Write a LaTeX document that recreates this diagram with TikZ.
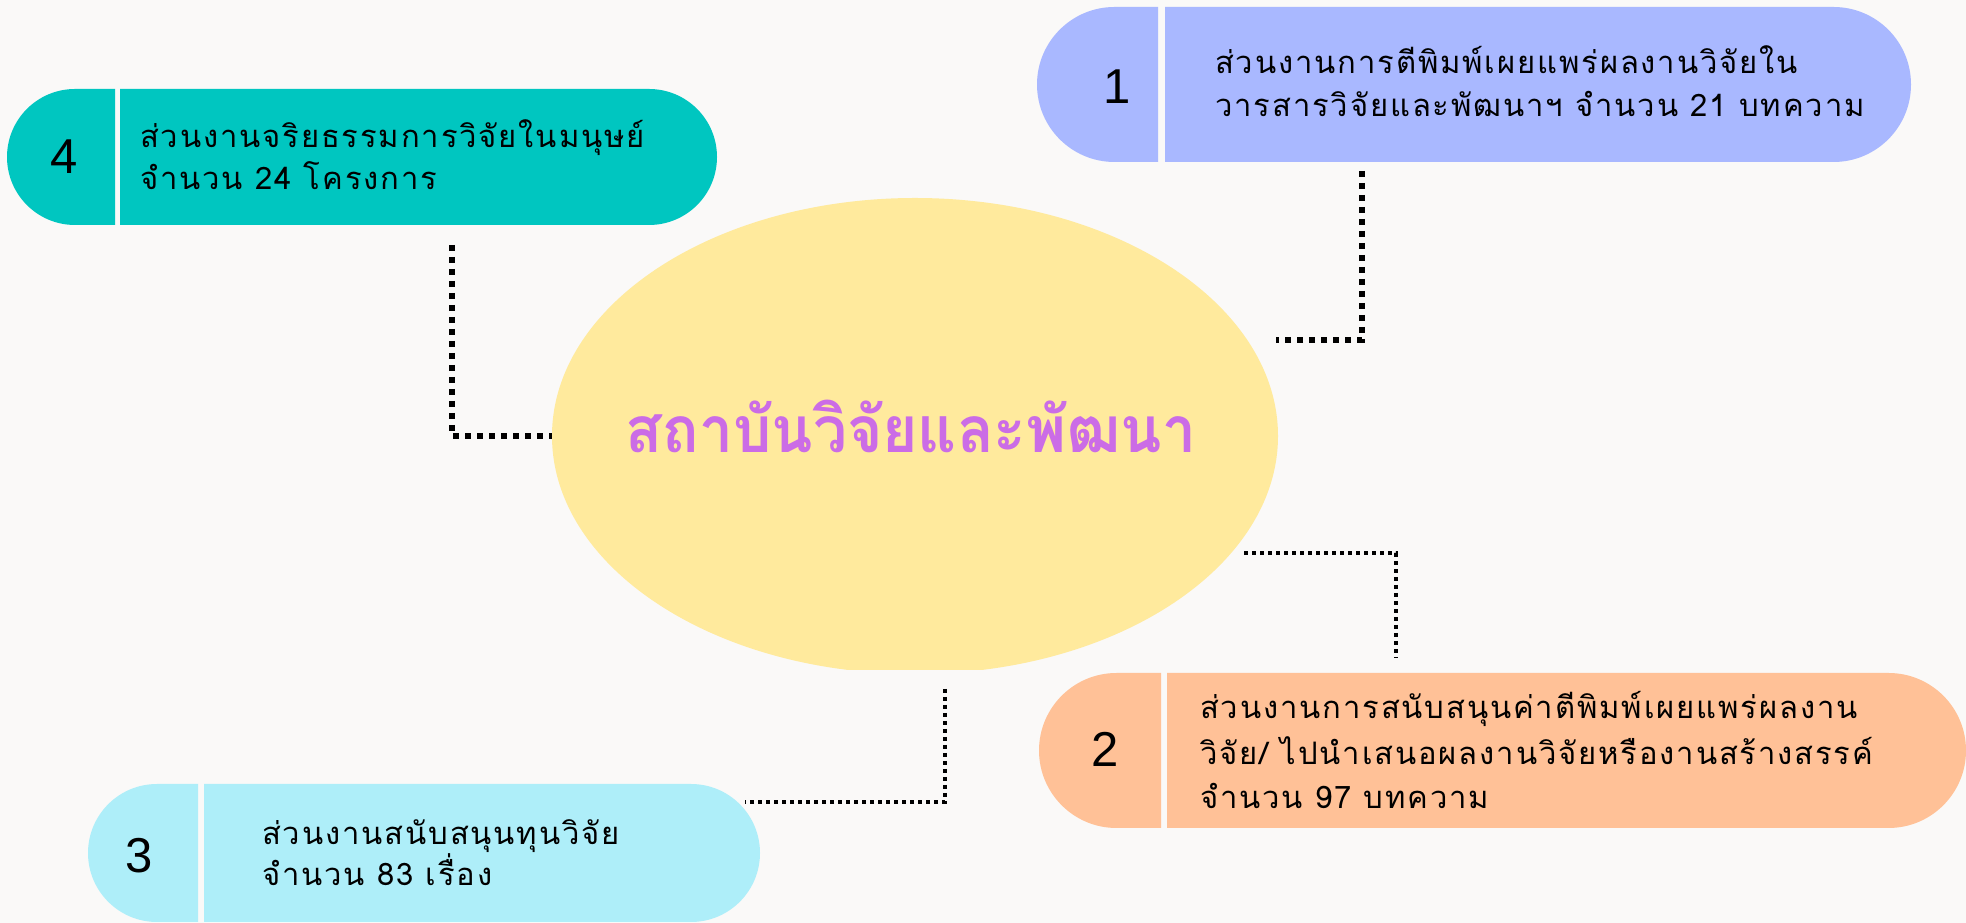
\documentclass[tikz,border=0pt]{standalone}
\usepackage{fontspec}
\setmainfont{Liberation Sans}
\newfontfamily\thaifont[Script=Thai]{Loma}
\newfontfamily\thaispaced[Script=Thai,LetterSpace=6]{Loma}
\usetikzlibrary{shapes.geometric}
\definecolor{bg}{HTML}{FAF9F8}
\definecolor{boxA}{HTML}{A9B8FF}
\definecolor{boxB}{HTML}{FFC197}
\definecolor{boxC}{HTML}{AEEEF9}
\definecolor{boxD}{HTML}{00C6C0}
\definecolor{ellfill}{HTML}{FFEA9D}
\definecolor{titlecol}{HTML}{CB6CE6}
\tikzset{
  numtxt/.style={inner sep=0pt, font=\fontsize{49}{49}\selectfont, text=black},
  linetxt/.style={inner sep=0pt, anchor=base west, font=\thaispaced\fontsize{31}{31}\selectfont, text=black},
  conA/.style={line width=6pt, dash pattern=on 6pt off 6pt, black},
  conB/.style={line width=4pt, dash pattern=on 4pt off 4pt, black},
}
\begin{document}
\begin{tikzpicture}[x=1pt,y=1pt]
\fill[bg] (0,0) rectangle (1966,923);
\useasboundingbox (0,0) rectangle (1966,923);
% central ellipse
\begin{scope}
\clip (0,253) rectangle (1966,923);
\node[ellipse, fill=ellfill, minimum width=726pt, minimum height=476pt, inner sep=0pt] (center) at (915,487) {};
\end{scope}
\node[inner sep=0pt, anchor=base, text=titlecol, font=\thaifont\bfseries\fontsize{64}{64}\selectfont] (title) at (911,470) {\scalebox{0.945}[1]{สถาบันวิจัยและพัฒนา}};
% box 1
\fill[boxA] (1158,916) -- (1114.5,916) arc[start angle=90, end angle=270, radius=77.5] -- (1158,761) -- cycle;
\fill[boxA] (1165,916) -- (1833.5,916) arc[start angle=90, end angle=-90, radius=77.5] -- (1165,761) -- cycle;
\node[numtxt] (n1) at (1117,836) {1};
\node[linetxt] (t1a) at (1215,849) {ส่วนงานการตีพิมพ์เผยแพร่ผลงานวิจัยใน};
\node[linetxt] (t1b) at (1215,806) {วารสารวิจัยและพัฒนาฯ จำนวน 21 บทความ};
% box 2
\fill[boxB] (1161,250) -- (1116.5,250) arc[start angle=90, end angle=270, radius=77.5] -- (1161,95) -- cycle;
\fill[boxB] (1167,250) -- (1888.5,250) arc[start angle=90, end angle=-90, radius=77.5] -- (1167,95) -- cycle;
\node[numtxt] (n2) at (1105,174) {2};
\node[linetxt] (t2a) at (1200,204) {ส่วนงานการสนับสนุนค่าตีพิมพ์เผยแพร่ผลงาน};
\node[linetxt] (t2b) at (1200,158) {วิจัย/ ไปนำเสนอผลงานวิจัยหรืองานสร้างสรรค์};
\node[linetxt] (t2c) at (1200,114) {จำนวน 97 บทความ};
% box 3
\fill[boxC] (198,139) -- (157,139) arc[start angle=90, end angle=270, radius=69] -- (198,1) -- cycle;
\fill[boxC] (204,139) -- (691,139) arc[start angle=90, end angle=-90, radius=69] -- (204,1) -- cycle;
\node[numtxt] (n3) at (139,67) {3};
\node[linetxt] (t3a) at (262,78) {ส่วนงานสนับสนุนทุนวิจัย};
\node[linetxt] (t3b) at (262,37) {จำนวน 83 เรื่อง};
% box 4
\fill[boxD] (115,834) -- (75,834) arc[start angle=90, end angle=270, radius=68] -- (115,698) -- cycle;
\fill[boxD] (120,834) -- (649,834) arc[start angle=90, end angle=-90, radius=68] -- (120,698) -- cycle;
\node[numtxt] (n4) at (64,766) {4};
\node[linetxt] (t4a) at (140,775) {ส่วนงานจริยธรรมการวิจัยในมนุษย์};
\node[linetxt] (t4b) at (140,733) {จำนวน 24 โครงการ};
% connectors
\coordinate (c4s) at (452,678);
\draw[conA] (c4s) |- (center.west);
\coordinate (c1s) at (1362,752);
\coordinate (c1e) at (1276,583);
\draw[conA] (c1s) |- (c1e);
\coordinate (c2s) at (1244,370);
\coordinate (c2e) at (1396,265);
\draw[conB] (c2s) -| (c2e);
\coordinate (c3s) at (945,234);
\coordinate (c3e) at (745,121);
\draw[conB] (c3s) |- (c3e);
\end{tikzpicture}
\end{document}
